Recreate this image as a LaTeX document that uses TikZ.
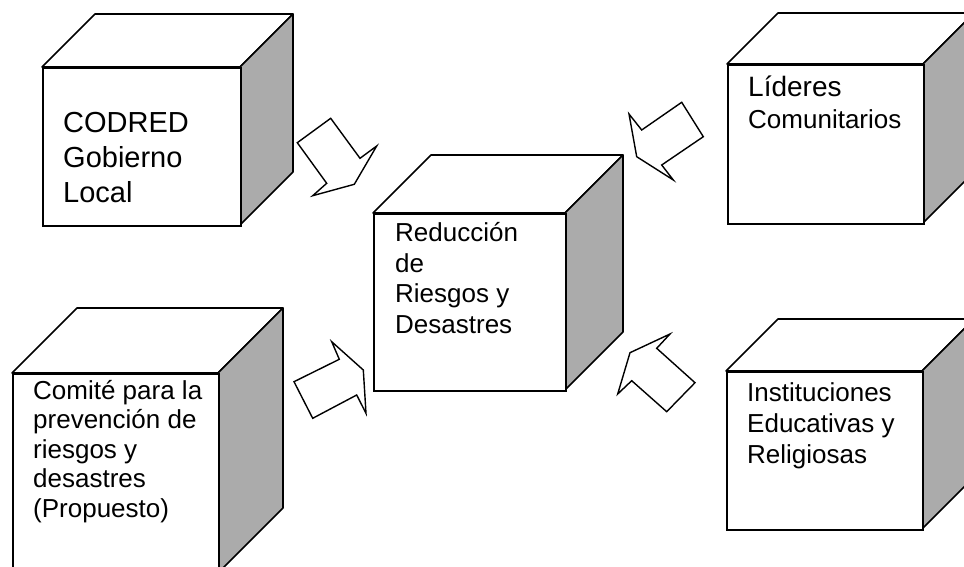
\documentclass[tikz,border=0pt]{standalone}
\usepackage{fontspec}
\setmainfont{Liberation Sans}
\begin{document}
\begin{tikzpicture}[x=1pt,y=-1pt,
  front/.style={draw=black, line width=1.6pt, fill=white, rectangle, inner sep=0pt, anchor=north west},
  topface/.style={draw=black, line width=1.6pt, fill=white, line join=round},
  sideface/.style={draw=black, line width=1.6pt, fill=black!33, line join=round},
  blockarrow/.style={draw=black, line width=1.4pt, fill=white, line join=miter},
  label/.style={anchor=base west, align=left, inner sep=0pt, text=black}]
\useasboundingbox (0,0) rectangle (964,567);
\clip (0,0) rectangle (964,567);

% cube helper: #1 name, #2 x, #3 y, #4 width, #5 height, #6 depth
\newcommand\mycube[6]{%
  \path[topface] (#2,#3) -- ++(#6,-#6) -- ++(#4,0) -- ++(-#6,#6) -- cycle;
  \path[sideface] (#2+#4,#3) -- ++(#6,-#6) -- ++(0,#5) -- ++(-#6,#6) -- cycle;
  \node[front, minimum width=#4pt, minimum height=#5pt] (#1) at (#2,#3) {};
}

\mycube{codred}{42}{67}{198}{158}{53}
\mycube{center}{373}{213}{192}{177}{58}
\mycube{lideres}{727}{64}{196}{159}{51}
\mycube{comite}{12}{373}{206}{200}{65}
\mycube{inst}{726}{371}{196}{158}{52}

% texts (anchored at the baseline of the last line)
\node[label, font=\fontsize{29}{35}\selectfont] (tcodred) at (63,202) {CODRED\\Gobierno\\Local};
\node[label, font=\fontsize{26}{30.5}\selectfont] (tcenter) at (395,333) {Reducción\\de\\Riesgos y\\Desastres};
\node[label, font=\fontsize{28}{32}\selectfont] (tlid1) at (748,96.7) {Líderes};
\node[label, font=\fontsize{26}{30}\selectfont] (tlid2) at (748,129) {Comunitarios};
\node[label, font=\fontsize{26}{29.5}\selectfont] (tcomite) at (33,517) {Comité para la\\prevención de\\riesgos y\\desastres\\(Propuesto)};
\node[label, font=\fontsize{26}{31}\selectfont] (tinst) at (747,463.5) {Instituciones\\Educativas y\\Religiosas};

% block arrows
\path[blockarrow] (297.3,142.7) -- (330.7,118.3) -- (360,158.3) -- (376.7,146) -- (354.3,184.3) -- (312.7,195.7) -- (326.7,183.3) -- cycle;
\path[blockarrow] (681.7,102.3) -- (703.3,136.7) -- (661.7,165) -- (673.3,180) -- (636.7,156.7) -- (629,114) -- (641.7,130) -- cycle;
\path[blockarrow] (294,381.7) -- (312.7,418.3) -- (356.7,395) -- (366,413.3) -- (363.3,370) -- (331.7,341.7) -- (339.3,359.3) -- cycle;
\path[blockarrow] (695,382.7) -- (666.7,411.7) -- (631.7,380.7) -- (617.7,394) -- (630,352.7) -- (670,334) -- (656.7,348.3) -- cycle;
\end{tikzpicture}
\end{document}
